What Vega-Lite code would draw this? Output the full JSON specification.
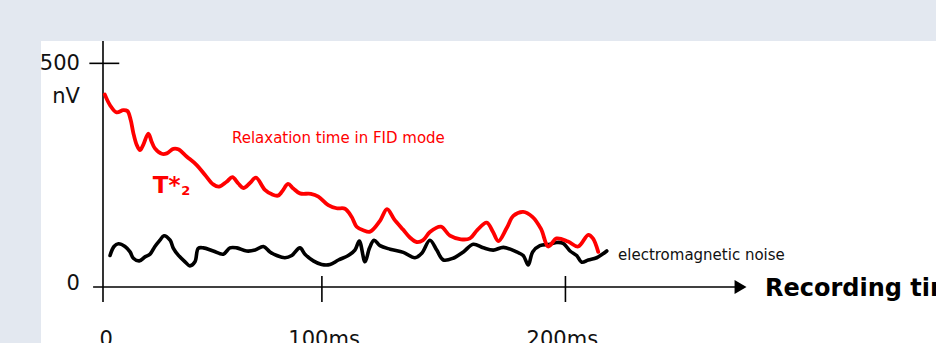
{
  "$schema": "https://vega.github.io/schema/vega-lite/v6.json",
  "width": 895,
  "height": 302,
  "autosize": "none",
  "padding": {"left": 41, "top": 41, "right": 0, "bottom": 0},
  "background": "#e3e8f0",
  "config": {"view": {"stroke": null, "fill": "#ffffff"}},
  "datasets": {
    "axes": [
      {"x": 0, "x2": 0, "y": 546.7, "y2": -33.3},
      {"x": -4.5, "x2": 287.3, "y": 0, "y2": 0},
      {"x": -6.2, "x2": 7.4, "y": 497, "y2": 497},
      {"x": 99.5, "x2": 99.5, "y": 24.4, "y2": -33.3},
      {"x": 210.2, "x2": 210.2, "y": 24.4, "y2": -33.3}
    ],
    "arrow": [{"x": 289.8, "y": 0}],
    "fid": [
      {"t": 0.8, "v": 428}, {"t": 3.2, "v": 404}, {"t": 6.2, "v": 388}, {"t": 9.2, "v": 393}, {"t": 11.1, "v": 391},
      {"t": 12.6, "v": 371}, {"t": 13.8, "v": 342}, {"t": 15.3, "v": 316}, {"t": 16.8, "v": 304}, {"t": 18.3, "v": 316},
      {"t": 20.6, "v": 341}, {"t": 22.1, "v": 323}, {"t": 23.6, "v": 308}, {"t": 26.7, "v": 296}, {"t": 29, "v": 297},
      {"t": 32, "v": 307}, {"t": 34.2, "v": 306}, {"t": 38, "v": 290}, {"t": 42.6, "v": 271}, {"t": 46.4, "v": 249},
      {"t": 50.1, "v": 228}, {"t": 52.7, "v": 223}, {"t": 56.2, "v": 234}, {"t": 58.8, "v": 244}, {"t": 61.5, "v": 230},
      {"t": 63.8, "v": 220}, {"t": 66.8, "v": 231}, {"t": 69.5, "v": 243}, {"t": 73.6, "v": 216}, {"t": 76.8, "v": 206},
      {"t": 79.5, "v": 203}, {"t": 81.4, "v": 212}, {"t": 84.1, "v": 229}, {"t": 86.5, "v": 219}, {"t": 89.5, "v": 208},
      {"t": 94.5, "v": 207}, {"t": 97.9, "v": 201}, {"t": 102.4, "v": 182}, {"t": 106.2, "v": 175}, {"t": 110, "v": 174},
      {"t": 113, "v": 156}, {"t": 115.3, "v": 134}, {"t": 118.3, "v": 126}, {"t": 121.4, "v": 123}, {"t": 125.9, "v": 147},
      {"t": 129.1, "v": 173}, {"t": 132.3, "v": 151}, {"t": 136.5, "v": 127}, {"t": 139.5, "v": 110}, {"t": 142.6, "v": 100},
      {"t": 145.5, "v": 104}, {"t": 148.6, "v": 122}, {"t": 153.6, "v": 134}, {"t": 157.7, "v": 114}, {"t": 162.7, "v": 106},
      {"t": 166.8, "v": 108}, {"t": 170.2, "v": 127}, {"t": 174.4, "v": 143}, {"t": 177.3, "v": 122}, {"t": 179.7, "v": 102},
      {"t": 183.5, "v": 131}, {"t": 186.5, "v": 158}, {"t": 191, "v": 167}, {"t": 195.2, "v": 156}, {"t": 199.1, "v": 129},
      {"t": 202.4, "v": 90}, {"t": 206.2, "v": 108}, {"t": 211.4, "v": 101}, {"t": 216, "v": 90}, {"t": 220.6, "v": 116},
      {"t": 222.7, "v": 108}, {"t": 225.1, "v": 78}
    ],
    "noise": [
      {"t": 3.2, "v": 70}, {"t": 5, "v": 90}, {"t": 7, "v": 96}, {"t": 10, "v": 90}, {"t": 12.3, "v": 78},
      {"t": 13.8, "v": 64}, {"t": 16.5, "v": 58}, {"t": 19.1, "v": 67}, {"t": 21.4, "v": 73}, {"t": 23.6, "v": 90},
      {"t": 25.9, "v": 104}, {"t": 27.7, "v": 114}, {"t": 30.5, "v": 104}, {"t": 32, "v": 86}, {"t": 34.2, "v": 71},
      {"t": 37.3, "v": 56}, {"t": 39.5, "v": 47}, {"t": 41.8, "v": 56}, {"t": 43.3, "v": 86}, {"t": 45.6, "v": 87},
      {"t": 50.1, "v": 80}, {"t": 54.7, "v": 73}, {"t": 57.7, "v": 87}, {"t": 60.8, "v": 87}, {"t": 65.3, "v": 80},
      {"t": 69.1, "v": 82}, {"t": 72.9, "v": 90}, {"t": 75.9, "v": 78}, {"t": 79, "v": 70}, {"t": 82.7, "v": 65},
      {"t": 85.8, "v": 70}, {"t": 89.5, "v": 87}, {"t": 91.8, "v": 73}, {"t": 95.6, "v": 58}, {"t": 99.4, "v": 50},
      {"t": 103.2, "v": 50}, {"t": 107, "v": 60}, {"t": 111.5, "v": 70}, {"t": 114.5, "v": 82}, {"t": 116.5, "v": 102},
      {"t": 119.1, "v": 56}, {"t": 121.1, "v": 86}, {"t": 123.2, "v": 104}, {"t": 125.9, "v": 92}, {"t": 130.5, "v": 84},
      {"t": 136.5, "v": 77}, {"t": 141.8, "v": 65}, {"t": 144.9, "v": 75}, {"t": 148.6, "v": 104}, {"t": 151.7, "v": 82},
      {"t": 154.7, "v": 60}, {"t": 159.2, "v": 64}, {"t": 163.8, "v": 78}, {"t": 168.3, "v": 95}, {"t": 172.9, "v": 87},
      {"t": 177.4, "v": 82}, {"t": 182, "v": 88}, {"t": 188, "v": 78}, {"t": 191, "v": 70}, {"t": 193.3, "v": 49},
      {"t": 195.3, "v": 78}, {"t": 198.6, "v": 92}, {"t": 203.2, "v": 95}, {"t": 206.2, "v": 99}, {"t": 209.2, "v": 97},
      {"t": 212.3, "v": 80}, {"t": 215.3, "v": 70}, {"t": 217.6, "v": 55}, {"t": 220.6, "v": 60}, {"t": 224.4, "v": 65},
      {"t": 229, "v": 80}
    ],
    "ylabels": [
      {"text": "500", "x": -10.5, "y": 482},
      {"text": "nV", "x": -10.5, "y": 410},
      {"text": "0", "x": -10.5, "y": -6.7}
    ],
    "xlabels": [
      {"text": "0", "x": 1.5, "y": -131},
      {"text": "100ms", "x": 100.5, "y": -131},
      {"text": "200ms", "x": 208.8, "y": -131}
    ],
    "xtitle": [{"text": "Recording time", "x": 300.9, "y": -20}],
    "noiselabel": [{"text": "electromagnetic noise", "x": 234.1, "y": 61}],
    "fidlabel": [{"text": "Relaxation time in FID mode", "x": 58.6, "y": 319.3}],
    "tlabel": [{"text": "T*", "x": 22.6, "y": 208.2}],
    "tsub": [{"text": "2", "x": 35.6, "y": 205}]
  },
  "layer": [
    {
      "data": {"name": "axes"},
      "mark": {"type": "rule", "color": "#000000", "strokeWidth": 1.6},
      "encoding": {
        "x": {"field": "x", "type": "quantitative", "axis": null, "scale": {"domain": [-28.18, 378.64], "nice": false, "zero": false}},
        "x2": {"field": "x2"},
        "y": {"field": "y", "type": "quantitative", "axis": null, "scale": {"domain": [-124.44, 546.67], "nice": false, "zero": false}},
        "y2": {"field": "y2"}
      }
    },
    {
      "data": {"name": "arrow"},
      "mark": {"type": "point", "shape": "triangle-right", "filled": true, "color": "#000000", "size": 190, "opacity": 1},
      "encoding": {
        "x": {"field": "x", "type": "quantitative"},
        "y": {"field": "y", "type": "quantitative"}
      }
    },
    {
      "data": {"name": "noise"},
      "mark": {"type": "line", "color": "#000000", "strokeWidth": 3.6, "interpolate": "catmull-rom", "strokeJoin": "round", "strokeCap": "round"},
      "encoding": {
        "x": {"field": "t", "type": "quantitative"},
        "y": {"field": "v", "type": "quantitative"}
      }
    },
    {
      "data": {"name": "fid"},
      "mark": {"type": "line", "color": "#ff0000", "strokeWidth": 3.8, "interpolate": "catmull-rom", "strokeJoin": "round", "strokeCap": "round"},
      "encoding": {
        "x": {"field": "t", "type": "quantitative"},
        "y": {"field": "v", "type": "quantitative"}
      }
    },
    {
      "data": {"name": "ylabels"},
      "mark": {"type": "text", "align": "right", "baseline": "alphabetic", "font": "DejaVu Sans", "fontSize": 21, "color": "#111111"},
      "encoding": {
        "x": {"field": "x", "type": "quantitative"},
        "y": {"field": "y", "type": "quantitative"},
        "text": {"field": "text"}
      }
    },
    {
      "data": {"name": "xlabels"},
      "mark": {"type": "text", "align": "center", "baseline": "alphabetic", "font": "DejaVu Sans", "fontSize": 21, "color": "#111111"},
      "encoding": {
        "x": {"field": "x", "type": "quantitative"},
        "y": {"field": "y", "type": "quantitative"},
        "text": {"field": "text"}
      }
    },
    {
      "data": {"name": "xtitle"},
      "mark": {"type": "text", "align": "left", "baseline": "alphabetic", "font": "DejaVu Sans", "fontSize": 24, "fontWeight": "bold", "color": "#000000"},
      "encoding": {
        "x": {"field": "x", "type": "quantitative"},
        "y": {"field": "y", "type": "quantitative"},
        "text": {"field": "text"}
      }
    },
    {
      "data": {"name": "noiselabel"},
      "mark": {"type": "text", "align": "left", "baseline": "alphabetic", "font": "DejaVu Sans", "fontSize": 15, "color": "#111111"},
      "encoding": {
        "x": {"field": "x", "type": "quantitative"},
        "y": {"field": "y", "type": "quantitative"},
        "text": {"field": "text"}
      }
    },
    {
      "data": {"name": "fidlabel"},
      "mark": {"type": "text", "align": "left", "baseline": "alphabetic", "font": "DejaVu Sans", "fontSize": 15, "color": "#ff0000"},
      "encoding": {
        "x": {"field": "x", "type": "quantitative"},
        "y": {"field": "y", "type": "quantitative"},
        "text": {"field": "text"}
      }
    },
    {
      "data": {"name": "tlabel"},
      "mark": {"type": "text", "align": "left", "baseline": "alphabetic", "font": "DejaVu Sans", "fontSize": 23, "fontWeight": "bold", "color": "#ff0000"},
      "encoding": {
        "x": {"field": "x", "type": "quantitative"},
        "y": {"field": "y", "type": "quantitative"},
        "text": {"field": "text"}
      }
    },
    {
      "data": {"name": "tsub"},
      "mark": {"type": "text", "align": "left", "baseline": "alphabetic", "font": "DejaVu Sans", "fontSize": 13, "fontWeight": "bold", "color": "#ff0000"},
      "encoding": {
        "x": {"field": "x", "type": "quantitative"},
        "y": {"field": "y", "type": "quantitative"},
        "text": {"field": "text"}
      }
    }
  ]
}
